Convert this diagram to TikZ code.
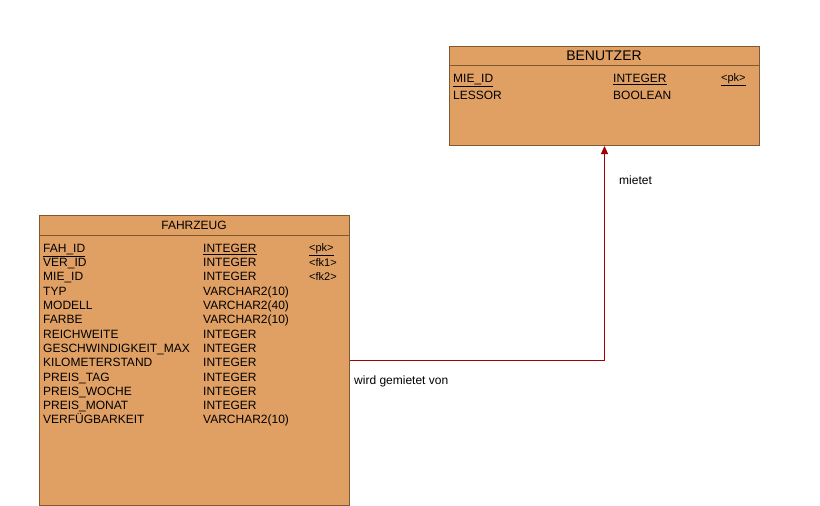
\documentclass[tikz,border=0pt]{standalone}
\usepackage{fontspec}
\setmainfont{Liberation Sans}
\usetikzlibrary{arrows.meta}
\definecolor{tabfill}{HTML}{E0A064}
\definecolor{tabline}{HTML}{80592F}
\definecolor{relred}{HTML}{A00000}
\begin{document}
\begin{tikzpicture}[x=1pt,y=-1pt,
	tab/.style={draw=tabline,fill=tabfill,line width=1pt,minimum width=310pt,inner sep=0pt,anchor=north west},
	attr/.style={anchor=west,inner sep=0pt,font=\fontsize{12}{14}\selectfont,text height=9pt,text depth=2.5pt},
	key/.style={anchor=west,inner sep=0pt,font=\fontsize{11}{13}\selectfont,text height=8pt,text depth=2.5pt},
	rel/.style={relred,line width=1pt,-{Triangle[length=8pt,width=7pt]}}]
	\useasboundingbox (0,0) rectangle (820,506);
	% BENUTZER
	\node[tab,minimum height=99pt] (benutzer) at (449,46) {};
	\draw[tabline,line width=1pt] (449,65) -- (759,65);
	\node[font=\fontsize{14}{16}\selectfont] (benutzertitel) at (604,56) {BENUTZER};
	\foreach \n/\t/\k [count=\i] in {{\underline{MIE\_ID}}/{\underline{INTEGER}}/{\underline{<pk>}},
		LESSOR/BOOLEAN/{}}
	{
	\node[attr] (b-name-\i) at (453,62.4+16.7*\i) {\n};
	\node[attr] (b-typ-\i) at (613,62.4+16.7*\i) {\t};
	\node[key] (b-key-\i) at (721,62.4+16.7*\i) {\k};
	}
	% FAHRZEUG
	\node[tab,minimum height=290pt] (fahrzeug) at (39,215) {};
	\draw[tabline,line width=1pt] (39,235) -- (349,235);
	\node[font=\fontsize{12}{14}\selectfont] (fahrzeugtitel) at (194,225) {FAHRZEUG};
	\foreach \n/\t/\k [count=\i] in {{\underline{FAH\_ID}}/{\underline{INTEGER}}/{\underline{<pk>}},
		VER\_ID/INTEGER/<fk1>, MIE\_ID/INTEGER/<fk2>, TYP/VARCHAR2(10)/{}, MODELL/VARCHAR2(40)/{},
		FARBE/VARCHAR2(10)/{}, REICHWEITE/INTEGER/{}, GESCHWINDIGKEIT\_MAX/INTEGER/{},
		KILOMETERSTAND/INTEGER/{}, PREIS\_TAG/INTEGER/{}, PREIS\_WOCHE/INTEGER/{},
		PREIS\_MONAT/INTEGER/{}, VERFÜGBARKEIT/VARCHAR2(10)/{}}
	{
	\node[attr] (f-name-\i) at (43,234.8+14.3*\i) {\n};
	\node[attr] (f-typ-\i) at (203,234.8+14.3*\i) {\t};
	\node[key] (f-key-\i) at (309,234.8+14.3*\i) {\k};
	}
	% beziehung
	\draw[rel] (fahrzeug.east) -| (benutzer.south);
	\node[attr] (mietet) at (619,181) {mietet};
	\node[attr] (gemietet) at (354,381) {wird gemietet von};
\end{tikzpicture}
\end{document}
